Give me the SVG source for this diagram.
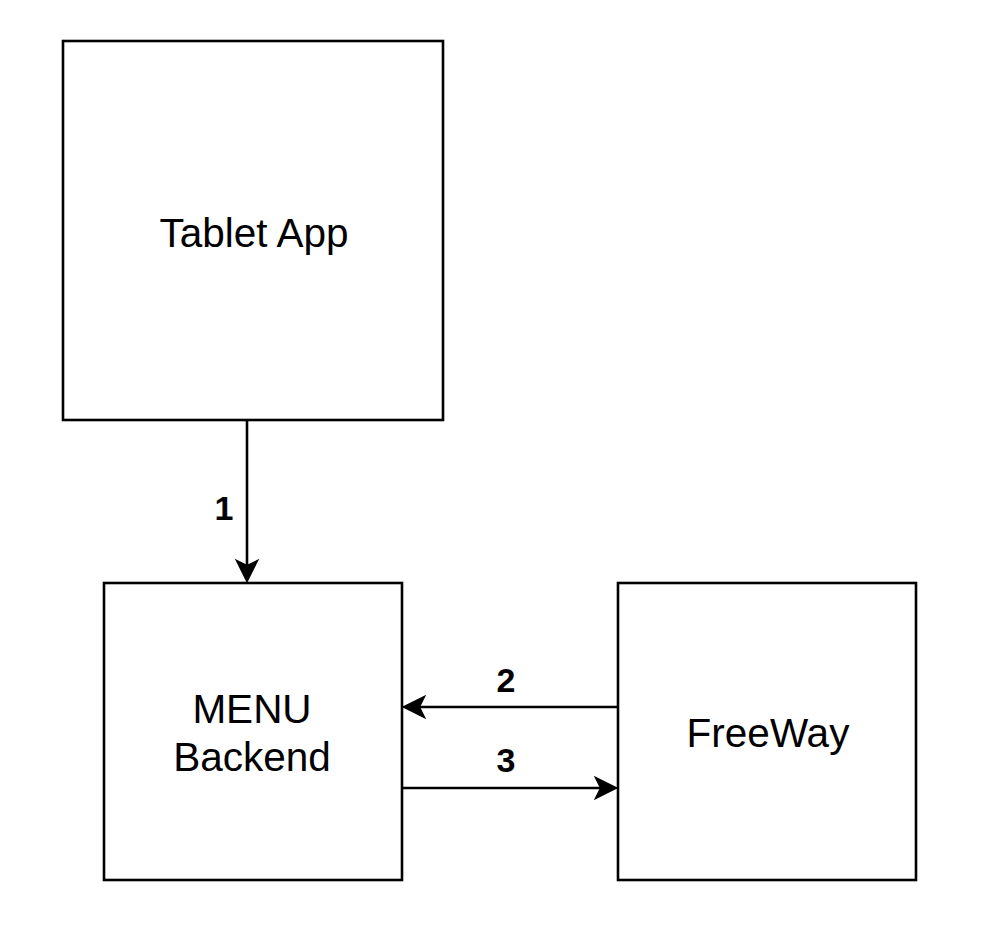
<svg xmlns="http://www.w3.org/2000/svg" width="992" height="940" viewBox="0 0 992 940">
<style>
.box{fill:#fff;stroke:#000;stroke-width:2.6}
.lbl{font-family:"Liberation Sans",Arial,sans-serif;font-size:40.5px;fill:#000;text-anchor:middle}
.num{font-family:"Liberation Sans",Arial,sans-serif;font-size:34px;font-weight:bold;fill:#000;text-anchor:middle}
.edge{stroke:#000;stroke-width:2.6;fill:none}
.head{fill:#000;stroke:#000;stroke-width:2}
</style>
<rect width="992" height="940" fill="#fff"/>
<g id="tablet-app"><rect class="box" x="63" y="41" width="380" height="379"/><text class="lbl" x="254" y="247">Tablet App</text></g>
<g id="menu-backend"><rect class="box" x="104" y="583" width="298" height="297"/><text class="lbl" x="252" y="723">MENU</text><text class="lbl" x="252" y="771">Backend</text></g>
<g id="freeway"><rect class="box" x="618" y="583" width="298" height="297"/><text class="lbl" x="768" y="747">FreeWay</text></g>
<g id="connectors">
<line class="edge" x1="247" y1="420" x2="247" y2="568"/>
<path class="head" d="M247 581 L237 561 L247 566 L257 561 Z"/>
<text class="num" x="224" y="520">1</text>
<line class="edge" x1="618" y1="707" x2="417" y2="707"/>
<path class="head" d="M404 707 L424 697 L419 707 L424 717 Z"/>
<text class="num" x="506" y="692">2</text>
<line class="edge" x1="402" y1="788" x2="603" y2="788"/>
<path class="head" d="M616 788 L596 778 L601 788 L596 798 Z"/>
<text class="num" x="506" y="772">3</text>
</g>
</svg>
